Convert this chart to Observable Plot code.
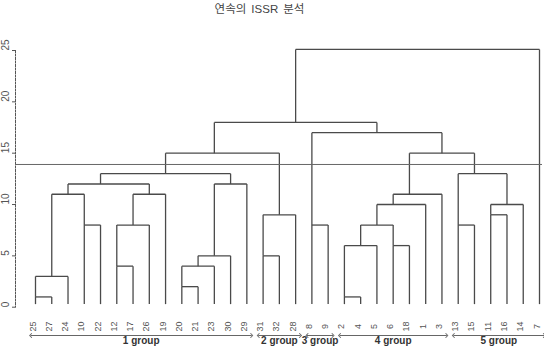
<!DOCTYPE html>
<html><head><meta charset="utf-8">
<script src="https://cdn.jsdelivr.net/npm/d3@7"></script>
<script src="https://cdn.jsdelivr.net/npm/@observablehq/plot@0.6"></script>
<style>
body{margin:0;background:#fff;}
#title{height:12px;padding-top:2px;line-height:12px;font-size:11.5px;font-family:"Noto Sans CJK KR","Noto Sans",sans-serif;color:#444;text-align:center;padding-right:25px;}
#title .lat{font-family:"Liberation Sans",Arial,sans-serif;margin:0 5px;}
#chart svg{display:block;}
</style></head><body>
<div id="title">연속의<span class="lat">ISSR</span>분석</div>
<div id="chart"></div>
<script>
// leaf labels in dendrogram order
const leaves = ["25","27","24","10","22","12","17","26","19","20","21","23","30","29",
                "31","32","28","8","9","2","4","5","6","18","1","3","13","15","11","16","14","7"];
// merge table (R hclust style): negative = leaf index (1-based), positive = earlier merge
const mergeLeft   = [-1,-20,-10, 1,-6, 3, 6,-15, 2,-23,-4, 5,-18, 9,-27, 8,-29,14,17, 4,12,18,20, 7,23,15,25,22,13,27,30];
const mergeRight  = [-2,-21,-11,-3,-7,-12,-13,-16,-22,-24,-5,-8,-19,10,-28,-17,-30,-25,-31,11,-9,-26,21,-14,24,19,16,26,28,29,-32];
const mergeHeight = [ 1,  1,  2, 3, 4,  4,  5,  5,  6,  6, 8, 8,  8, 8,  8,  9,  9, 10, 10,11,11, 11,12, 12,13,13,15,15,17,18,25.1];
const cutHeight = 13.9;
const yTicks = [0, 5, 10, 15, 20, 25];
const groupNames = ["1 group", "2 group", "3 group", "4 group", "5 group"];
const groupSizes = [14, 3, 2, 7, 6];

const leafBase = 0.3;
const nodeX = [], nodeH = [];
const childX = c => c < 0 ? -c - 1 : nodeX[c - 1];
const childH = c => c < 0 ? leafBase : nodeH[c - 1];
const segs = [];
mergeLeft.forEach((l, i) => {
  const r = mergeRight[i], h = mergeHeight[i];
  const xl = childX(l), xr = childX(r);
  segs.push({x1: xl, y1: childH(l), x2: xl, y2: h});
  segs.push({x1: xr, y1: childH(r), x2: xr, y2: h});
  segs.push({x1: xl, y1: h, x2: xr, y2: h});
  nodeX.push(Math.floor((xl + xr) / 2));
  nodeH.push(h);
});

let start = 0;
const groups = groupNames.map((name, i) => {
  const g = {name, a: start, b: start + groupSizes[i] - 1};
  start += groupSizes[i];
  return g;
});

const chart = Plot.plot({
  width: 544, height: 340,
  marginLeft: 15, marginRight: 2, marginTop: 36, marginBottom: 47.3,
  x: {domain: [0, leaves.length - 1], insetLeft: 20, insetRight: 3, axis: null},
  y: {domain: [0, 25], axis: null},
  style: {fontFamily: "'Liberation Sans', Arial, sans-serif", background: "#fff"},
  marks: [
    Plot.frame({anchor: "left", stroke: "#555", strokeDasharray: "2,1.5"}),
    Plot.axisY({ticks: yTicks, tickSize: 3, tickFormat: () => "", label: null, stroke: "#555"}),
    Plot.text(yTicks, {y: d => d, text: d => String(d), frameAnchor: "left", dx: -10, rotate: -90, fontSize: 10, fill: "#555"}),
    Plot.link(segs, {x1: "x1", y1: "y1", x2: "x2", y2: "y2", stroke: "#4a4a4a", strokeWidth: 1.3}),
    Plot.ruleY([cutHeight], {stroke: "#666", strokeWidth: 1}),
    Plot.text(leaves, {x: (d, i) => i, text: d => d, frameAnchor: "bottom", dy: 19.3, rotate: -90, fontSize: 9, fill: "#555"}),
    Plot.link(groups, {x1: g => g.a - 0.3, x2: g => g.b + 0.3, y1: () => 0, y2: () => 0, dy: 28.3,
      stroke: "#666", markerStart: "arrow-reverse", markerEnd: "arrow"}),
    Plot.text(groups, {x: g => (g.a + g.b) / 2, text: "name", frameAnchor: "bottom", dy: 36.3,
      fontSize: 10, fontWeight: "bold", fill: "#333"})
  ]
});
document.getElementById("chart").appendChild(chart);
</script>
</body></html>
